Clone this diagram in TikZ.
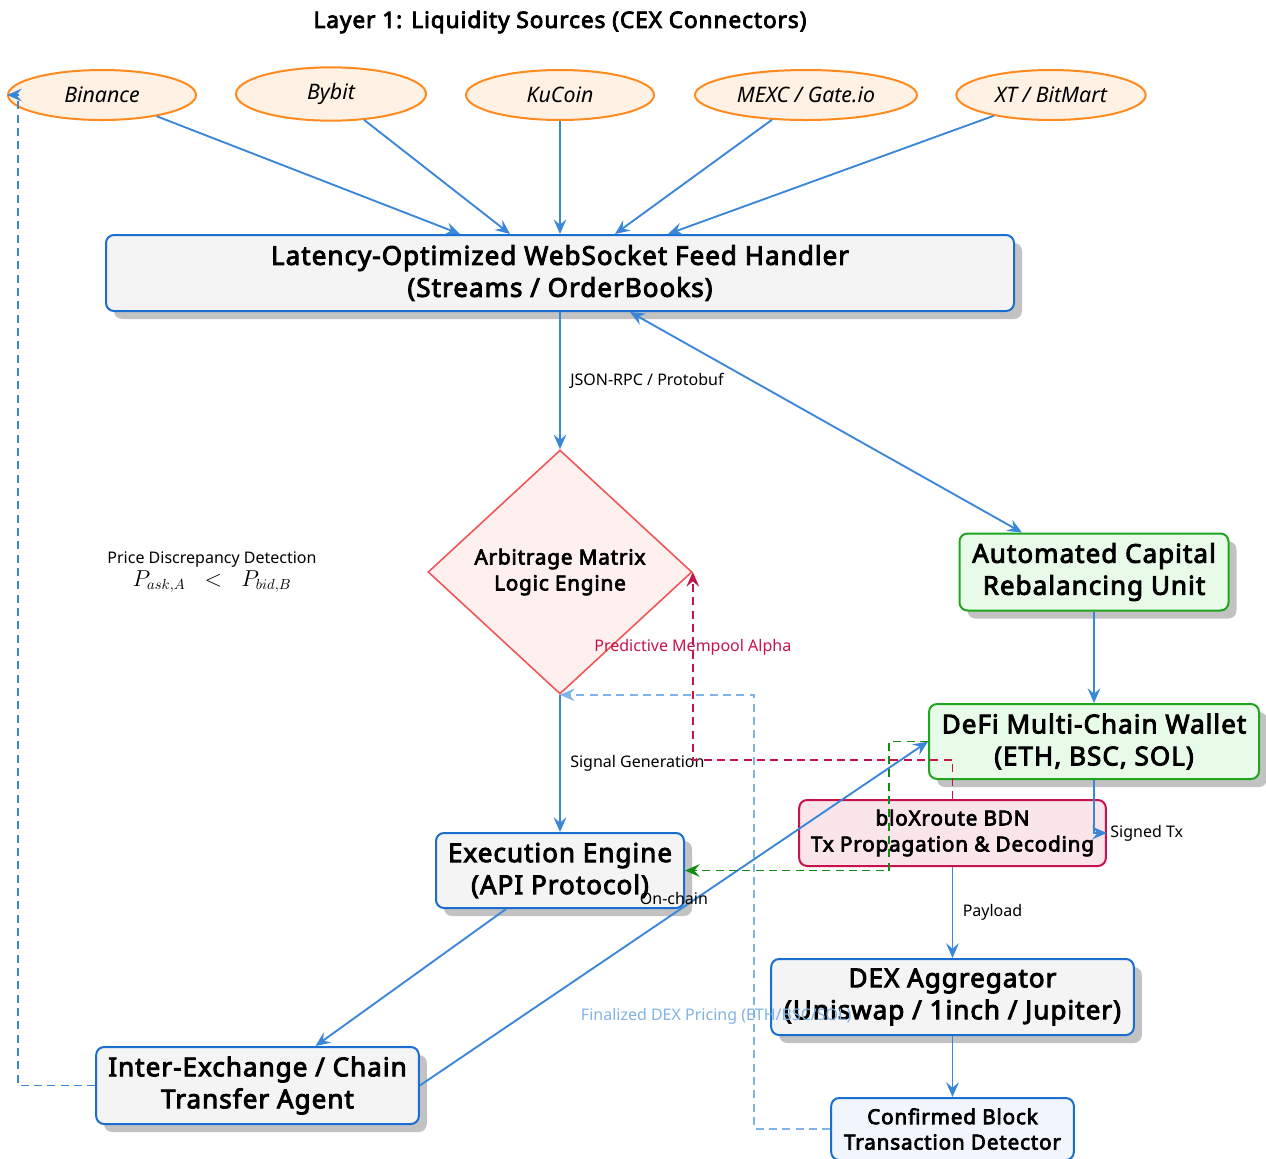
\documentclass[tikz,border=0pt]{standalone}
\usepackage{fontspec}
\setmainfont{Noto Sans}[BoldFont={Noto Sans}, BoldFeatures={FakeBold=3.5, LetterSpace=4}]
\usetikzlibrary{arrows.meta,shapes.geometric,shadows}

\definecolor{linkblue}{HTML}{3A86D8}
\definecolor{boxblue}{HTML}{1A6ECF}
\definecolor{boxgray}{HTML}{F4F4F4}
\definecolor{cexfill}{HTML}{FFF1E3}
\definecolor{cexline}{HTML}{FF8A1F}
\definecolor{logicfill}{HTML}{FFF0F0}
\definecolor{logicline}{HTML}{F25757}
\definecolor{walletfill}{HTML}{E8FBE8}
\definecolor{walletline}{HTML}{20A520}
\definecolor{mempoolfill}{HTML}{FAE5EB}
\definecolor{mempoolline}{HTML}{C6134C}
\definecolor{finallight}{HTML}{80B3E6}
\definecolor{routegreen}{HTML}{148B14}
\definecolor{detectfill}{HTML}{F1F6FC}

\tikzset{
  cexnode/.style={ellipse, draw=cexline, fill=cexfill, line width=1.5pt, inner sep=0pt,
    minimum width=141pt, minimum height=37.5pt, font=\fontsize{16}{19}\selectfont\itshape},
  basebox/.style={rectangle, rounded corners=6pt, line width=1.5pt, align=center, inner sep=0pt},
  boxshadow/.style={drop shadow={shadow xshift=6pt, shadow yshift=-6pt, fill=black!24, opacity=1}},
  corebox/.style={basebox, boxshadow, draw=boxblue, fill=boxgray, font=\fontsize{19.5}{24}\selectfont\bfseries},
  walletbox/.style={basebox, boxshadow, draw=walletline, fill=walletfill, font=\fontsize{19.5}{24}\selectfont\bfseries},
  mempoolbox/.style={basebox, draw=mempoolline, fill=mempoolfill, font=\fontsize{15.5}{19.5}\selectfont\bfseries},
  detectbox/.style={basebox, draw=boxblue, fill=detectfill, font=\fontsize{15.5}{19}\selectfont\bfseries},
  logicdiamond/.style={diamond, draw=logicline, fill=logicfill, line width=1.2pt, inner sep=0pt, align=center,
    minimum width=198pt, minimum height=183pt, font=\fontsize{15.5}{19.5}\selectfont\bfseries},
  tip/.style={-{Stealth[length=11pt, width=9.5pt, inset=4pt]}},
  link/.style={tip, draw=linkblue, line width=1.4pt},
  dashlink/.style={tip, line width=1.4pt, dash pattern=on 6pt off 4pt},
  edgelabel/.style={font=\fontsize{12}{14}\selectfont, inner sep=2pt}
}

\begin{document}
\begin{tikzpicture}[x=0.75pt, y=-0.75pt]
    \useasboundingbox (0,0) rectangle (1266,1158);
    \node[font=\fontsize{17}{20}\selectfont\bfseries] (title) at (560,22) {Layer 1: Liquidity Sources (CEX Connectors)};

    \node[cexnode] (binance) at (102,95) {Binance};
    \node[cexnode, minimum width=142.5pt, minimum height=40pt] (bybit) at (331,94) {Bybit};
    \node[cexnode] (kucoin) at (560,95) {KuCoin};
    \node[cexnode, minimum width=166.5pt] (mexc) at (806,95) {MEXC / Gate.io};
    \node[cexnode, minimum width=142pt] (xtbm) at (1051,95) {XT / BitMart};

    \node[corebox, minimum width=681pt, minimum height=57pt] (feed) at (560,273)
        {Latency-Optimized WebSocket Feed Handler\\(Streams / OrderBooks)};
    \node[logicdiamond] (arb) at (560,572) {Arbitrage Matrix\\Logic Engine};
    \node[font=\fontsize{12}{17.5}\selectfont, align=center] (detect) at (212,572)
        {Price Discrepancy Detection\\{\fontsize{16}{17.5}\selectfont$P_{ask,A} \;\;<\;\; P_{bid,B}$}};
    \node[walletbox, minimum width=201.75pt, minimum height=57.75pt] (capital) at (1094,572)
        {Automated Capital\\Rebalancing Unit};
    \node[walletbox, minimum width=247.5pt, minimum height=56.25pt] (wallet) at (1094,741.5)
        {DeFi Multi-Chain Wallet\\(ETH, BSC, SOL)};
    \node[mempoolbox, minimum width=230pt, minimum height=49.5pt] (bdn) at (952.5,833)
        {bloXroute BDN\\Tx Propagation \& Decoding};
    \node[corebox, minimum width=186pt, minimum height=56.25pt] (exec) at (560,870.5)
        {Execution Engine\\(API Protocol)};
    \node[corebox, minimum width=242pt, minimum height=57.75pt] (inter) at (257.5,1085.5)
        {Inter-Exchange / Chain\\Transfer Agent};
    \node[corebox, minimum width=272pt, minimum height=57pt] (dex) at (952.5,997)
        {DEX Aggregator\\(Uniswap / 1inch / Jupiter)};
    \node[detectbox, minimum width=182pt, minimum height=46.5pt] (confirmed) at (952.5,1129)
        {Confirmed Block\\Transaction Detector};

    \draw[link] (binance) -- ([xshift=-75pt]feed.north);
    \draw[link] (bybit) -- ([xshift=-37.5pt]feed.north);
    \draw[link] (kucoin) -- (feed.north);
    \draw[link] (mexc) -- ([xshift=41.25pt]feed.north);
    \draw[link] (xtbm) -- ([xshift=81pt]feed.north);

    \draw[link] (feed.south) -- node[edgelabel, right, xshift=5pt] {JSON-RPC / Protobuf} (arb.north);
    \draw[link, {Stealth[length=11pt, width=9.5pt, inset=4pt]}-{Stealth[length=11pt, width=9.5pt, inset=4pt]}]
        ([xshift=52.5pt]feed.south) -- ([xshift=-54pt]capital.north);
    \draw[link] (capital) -- (wallet);
    \draw[link] (wallet.south) |- (bdn.east) node[edgelabel, right] {Signed Tx};
    \draw[link] (bdn) -- node[edgelabel, right, xshift=5pt] {Payload} (dex);
    \draw[link] (dex) -- (confirmed);
    \draw[link] (arb.south) -- node[edgelabel, right, xshift=5pt] {Signal Generation} (exec.north);
    \draw[link] ([xshift=-40.5pt]exec.south) -- ([xshift=43.5pt]inter.north);
    \draw[link] (inter.east) -- node[edgelabel, above, pos=0.5, yshift=4pt] {On-chain} (wallet.west);

    \draw[dashlink, draw=linkblue] (inter.west) -- ++(-77,0) |- (binance.west);
    \draw[dashlink, draw=routegreen] (wallet.west) -- ++(-39,0) |- (exec.east);
    \draw[dashlink, draw=mempoolline] (bdn.north) -- ++(0,-39) -| (arb.east)
        node[edgelabel, pos=0.8, text=mempoolline] {Predictive Mempool Alpha};
    \draw[dashlink, draw=finallight] (confirmed.west) -- ++(-76,0) |- (arb.south)
        node[edgelabel, pos=0.13, xshift=-28.5pt, text=finallight] {Finalized DEX Pricing (ETH/BSC/SOL)};
\end{tikzpicture}
\end{document}
